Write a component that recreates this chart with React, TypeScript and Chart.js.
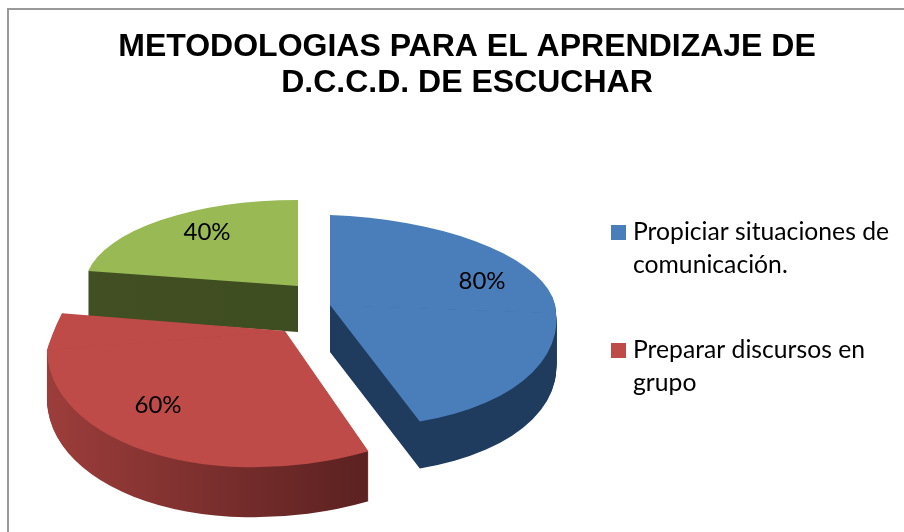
import React, { useEffect, useRef } from "react";
import { Chart, registerables } from "chart.js";

Chart.register(...registerables);

const titleLines = ["METODOLOGIAS PARA EL APRENDIZAJE DE", "D.C.C.D. DE ESCUCHAR"];
const categories = ["Propiciar situaciones de comunicación.", "Preparar discursos en grupo", ""];
const legendLines = [["Propiciar situaciones de", "comunicación."], ["Preparar discursos en", "grupo"]];
const values = [80, 60, 40];
const topColors = ["#4a7ebb", "#be4b48", "#98b954"];
const wallFrom = ["#1f3b5e", "#9c3d3b", "#414f22"];
const wallTo = ["#1f3b5e", "#5a2120", "#3c4c20"];

// 3D projection of each exploded slice (perspective approximated per slice).
const views = [
  { cx: 330, cy: 305, rx: 226, ryUp: 90, ryDown: 121, shearUp: 0, shearDown: 0.11, tilt: -8, depth: 47, wallEnd: 1, lx: 152, ly: -24 },
  { cx: 285, cy: 331, rx: 238, ryUp: 210, ryDown: 135, shearUp: -0.31, shearDown: 0.016, tilt: 19, depth: 50, wallEnd: 0.35, lx: -127, ly: 74 },
  { cx: 298, cy: 286, rx: 213, ryUp: 86, ryDown: 86, shearUp: 0, shearDown: 0, tilt: 0, depth: 46, wallEnd: 1, lx: -91, ly: -54 },
];
const drawOrder = [2, 1, 0];
const FONT = "Lato, sans-serif";

function paintSlice(ctx: CanvasRenderingContext2D, el: any, v: any, dy: number, fill: any, W: number, H: number) {
  const R = el.outerRadius;
  const original = el.options;
  el.options = { ...original, backgroundColor: fill };
  const splitY = v.cy + dy;
  const lineY = (x: number) => splitY - (v.tilt * (x - v.cx)) / v.rx;
  [
    { up: true, ry: v.ryUp, k: v.shearUp },
    { up: false, ry: v.ryDown, k: v.shearDown },
  ].forEach((part) => {
    ctx.save();
    ctx.beginPath();
    if (part.up) {
      ctx.moveTo(0, 0);
      ctx.lineTo(W, 0);
      ctx.lineTo(W, lineY(W) + 0.5);
      ctx.lineTo(0, lineY(0) + 0.5);
    } else {
      ctx.moveTo(0, lineY(0));
      ctx.lineTo(W, lineY(W));
      ctx.lineTo(W, H);
      ctx.lineTo(0, H);
    }
    ctx.closePath();
    ctx.clip();
    const a = v.rx / R;
    const b = -v.tilt / R;
    const c = (part.k * part.ry) / R;
    const d = part.ry / R;
    ctx.transform(a, b, c, d, v.cx - a * el.x - c * el.y, splitY - b * el.x - d * el.y);
    el.draw(ctx);
    ctx.restore();
  });
  el.options = original;
}

const pie3d = {
  id: "pie3d",
  beforeDraw(chart: any) {
    const { ctx } = chart;
    ctx.save();
    ctx.strokeStyle = "#9a9a9a";
    ctx.lineWidth = 2;
    ctx.strokeRect(8, 9, 1000, 1000);
    ctx.restore();
  },
  beforeDatasetsDraw(chart: any) {
    const { ctx, width: W, height: H } = chart;
    const meta = chart.getDatasetMeta(0);
    drawOrder.forEach((i) => {
      const el = meta.data[i];
      const v = views[i];
      const R = el.outerRadius;
      const grad = ctx.createLinearGradient(el.x - R, 0, el.x + R * v.wallEnd, 0);
      grad.addColorStop(0, wallFrom[i]);
      grad.addColorStop(1, wallTo[i]);
      for (let d = v.depth; d >= 1; d--) paintSlice(ctx, el, v, d, grad, W, H);
      paintSlice(ctx, el, v, 0, topColors[i], W, H);
    });
    ctx.save();
    ctx.fillStyle = "#000";
    ctx.font = `24px ${FONT}`;
    ctx.textAlign = "center";
    ctx.textBaseline = "middle";
    chart.data.datasets[0].data.forEach((val: number, i: number) => {
      ctx.fillText(`${val}%`, views[i].cx + views[i].lx, views[i].cy + views[i].ly);
    });
    ctx.restore();
    return false;
  },
  afterDraw(chart: any) {
    const { ctx } = chart;
    const tops = [232, 350];
    ctx.save();
    ctx.textBaseline = "middle";
    ctx.textAlign = "left";
    ctx.font = `24.7px ${FONT}`;
    legendLines.forEach((lines, i) => {
      ctx.fillStyle = topColors[i];
      ctx.fillRect(611, tops[i] - 7, 15, 15);
      ctx.fillStyle = "#000";
      lines.forEach((t, j) => ctx.fillText(t, 633, tops[i] + j * 33));
    });
    ctx.restore();
  },
};

export default function App() {
  const ref = useRef<HTMLCanvasElement>(null);
  useEffect(() => {
    document.body.style.margin = "0";
    const chart = new Chart(ref.current!, {
      type: "pie",
      data: {
        labels: categories,
        datasets: [{ data: values, backgroundColor: topColors, borderWidth: 0 }],
      },
      options: {
        responsive: false,
        animation: false,
        events: [],
        layout: { padding: { left: 30, top: 30 } },
        plugins: {
          legend: { display: false },
          tooltip: { enabled: false },
          title: {
            display: true,
            text: titleLines,
            color: "#000",
            font: { family: "'Liberation Sans', Arial, sans-serif", size: 32, weight: "bold", lineHeight: 1.1 },
            padding: 0,
          },
        },
      },
      plugins: [pie3d],
    } as any);
    return () => chart.destroy();
  }, []);
  return <canvas ref={ref} width={904} height={532} style={{ display: "block", width: 904, height: 532 }} />;
}
